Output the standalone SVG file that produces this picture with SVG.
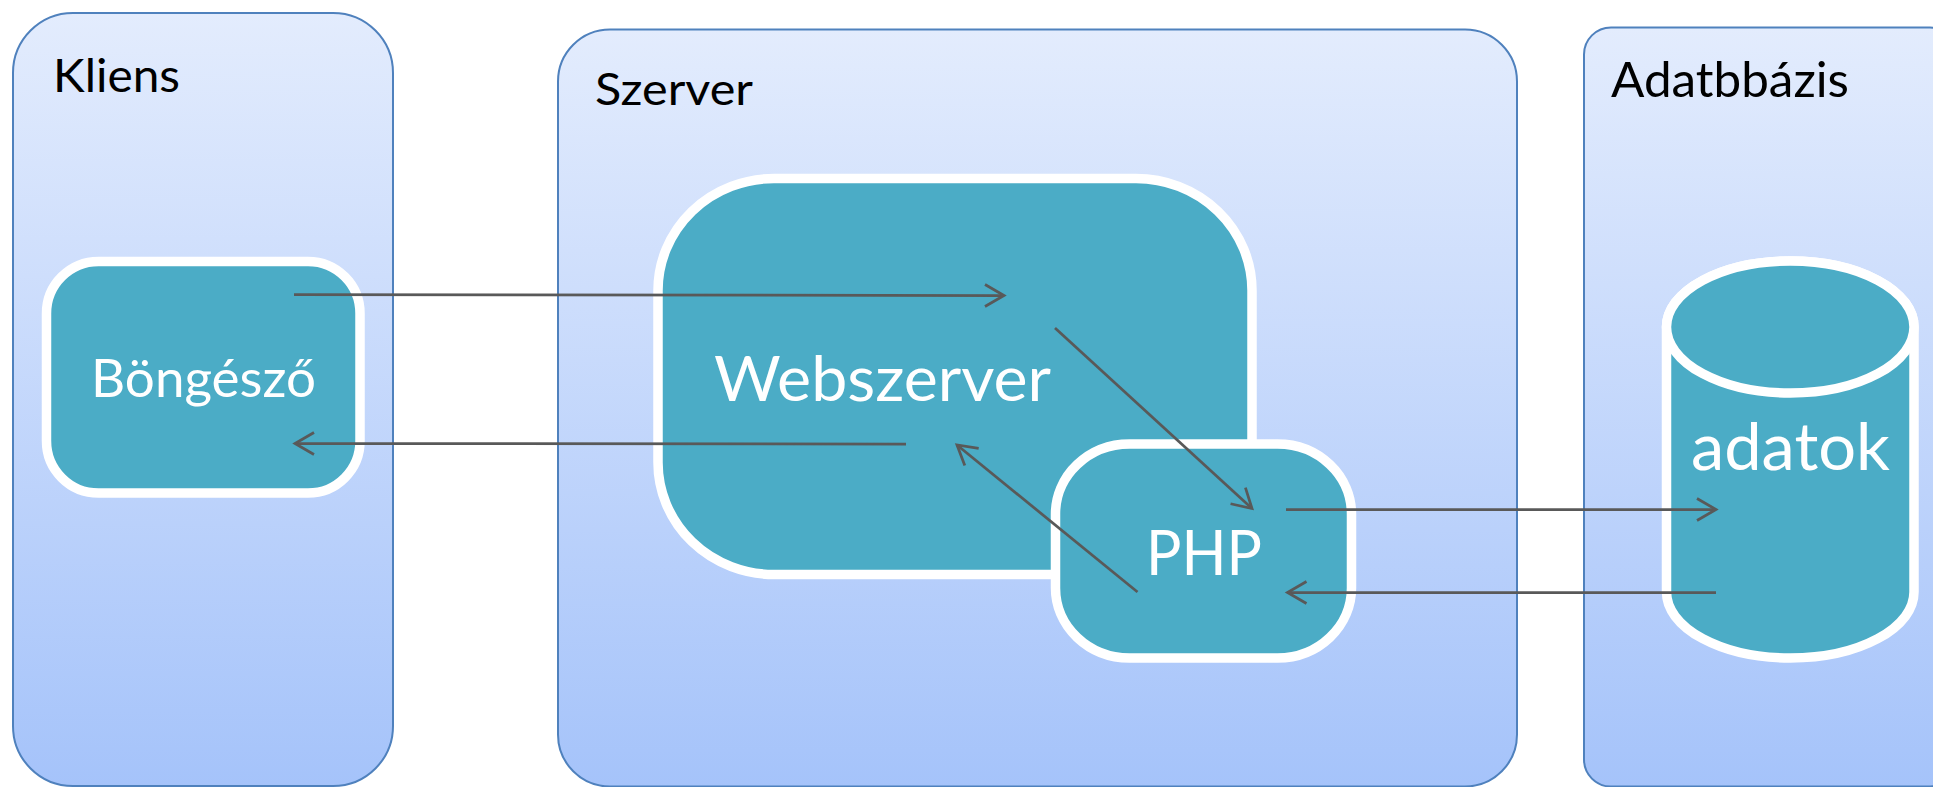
<svg xmlns="http://www.w3.org/2000/svg" width="1933" height="787" viewBox="0 0 1933 787">
  <style>
    .panel { fill: url(#panelFill); stroke: #4F81BD; stroke-width: 2; }
    .node { fill: #4BACC6; stroke: #FFFFFF; stroke-width: 9.5; }
    .panel-label { font-family: Lato, "Open Sans", sans-serif; fill: #000000; }
    .node-label { font-family: Lato, "Open Sans", sans-serif; fill: #FFFFFF; }
    .flow { fill: none; stroke: #595959; stroke-width: 2.75; }
  </style>
  <defs>
    <linearGradient id="panelFill" x1="0" y1="0" x2="0" y2="1">
      <stop offset="0" stop-color="#E3ECFD"/>
      <stop offset="1" stop-color="#A5C3FA"/>
    </linearGradient>
    <marker id="openHead" markerUnits="userSpaceOnUse" markerWidth="30" markerHeight="30" viewBox="-25 -15 30 30" refX="0" refY="0" orient="auto" overflow="visible">
      <path d="M-19,-11 L0,0 L-19,11" fill="none" stroke="#595959" stroke-width="2.75"/>
    </marker>
  </defs>

  <rect width="1933" height="787" fill="#FFFFFF"/>

  <!-- swimlane panels -->
  <g id="kliens">
    <rect class="panel" x="13" y="13" width="380" height="773" rx="60" ry="60"/>
    <text class="panel-label" x="53" y="92" font-size="47" textLength="127" lengthAdjust="spacingAndGlyphs">Kliens</text>
  </g>
  <g id="szerver">
    <rect class="panel" x="558" y="29.5" width="959" height="757" rx="52" ry="52"/>
    <text class="panel-label" x="595" y="105" font-size="45" textLength="158" lengthAdjust="spacingAndGlyphs">Szerver</text>
  </g>
  <g id="adatbazis">
    <rect class="panel" x="1584" y="27.5" width="373" height="759" rx="27" ry="27"/>
    <text class="panel-label" x="1611" y="97" font-size="49" textLength="238" lengthAdjust="spacingAndGlyphs">Adatbbázis</text>
  </g>

  <!-- components -->
  <g id="bongeszo">
    <rect class="node" x="46.5" y="261.5" width="313.5" height="231.5" rx="52" ry="52"/>
    <text class="node-label" x="91" y="397" font-size="52" textLength="225" lengthAdjust="spacingAndGlyphs">Böngésző</text>
  </g>
  <g id="webszerver">
    <rect class="node" x="658" y="178.5" width="594" height="396" rx="116" ry="112"/>
    <text class="node-label" x="714" y="401" font-size="62" textLength="337" lengthAdjust="spacingAndGlyphs">Webszerver</text>
  </g>
  <g id="php">
    <rect class="node" x="1055.5" y="444" width="296" height="214" rx="74" ry="70"/>
    <text class="node-label" x="1146" y="574.5" font-size="61" textLength="116" lengthAdjust="spacingAndGlyphs">PHP</text>
  </g>
  <g id="adatok">
    <path class="node" d="M1666.5,327 L1666.5,592 A123.75,66 0 0 0 1914,592 L1914,327 A123.75,66 0 0 0 1666.5,327 Z"/>
    <ellipse class="node" cx="1790.25" cy="327" rx="123.75" ry="66"/>
    <text class="node-label" x="1691" y="470" font-size="65" textLength="199" lengthAdjust="spacingAndGlyphs">adatok</text>
  </g>

  <!-- request / response flows -->
  <g id="connectors">
    <line class="flow" x1="294" y1="294.5" x2="1004" y2="295.5" marker-end="url(#openHead)"/>
    <line class="flow" x1="1055" y1="328" x2="1252" y2="508.5" marker-end="url(#openHead)"/>
    <line class="flow" x1="1286" y1="509.5" x2="1716" y2="509.5" marker-end="url(#openHead)"/>
    <line class="flow" x1="1716" y1="592.5" x2="1287.5" y2="592.5" marker-end="url(#openHead)"/>
    <line class="flow" x1="1137.5" y1="592" x2="957" y2="445" marker-end="url(#openHead)"/>
    <line class="flow" x1="906" y1="444" x2="295" y2="443.5" marker-end="url(#openHead)"/>
  </g>
</svg>
